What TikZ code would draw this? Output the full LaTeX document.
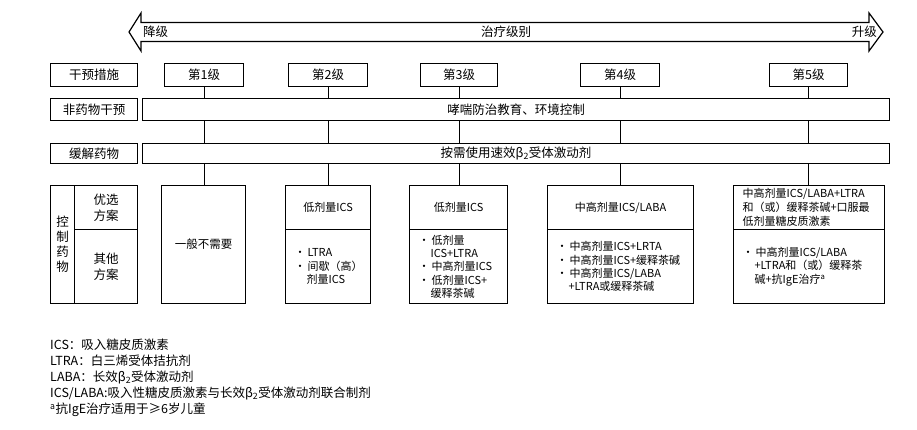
\documentclass[tikz,border=0pt]{standalone}
\usepackage{fontspec}
\setmainfont{Noto Sans CJK SC}
\usetikzlibrary{calc}
\newcommand{\bigtxt}{\fontsize{12.5}{16}\selectfont}
\newcommand{\smalltxt}{\fontsize{11}{13.3}\selectfont}
\newcommand{\bulit}{\makebox[13pt][l]{\textbullet}}
\newcommand{\contit}{\hspace*{12pt}}
\tikzset{frame/.style={draw,line width=1.2pt,inner sep=0pt,anchor=north west,align=center},
  hdr/.style={frame,font=\bigtxt},
  cell/.style={frame,font=\smalltxt},
  lst/.style={cell,align=left,inner xsep=9pt},
  link/.style={line width=1.2pt}}

\begin{document}
\begin{tikzpicture}[x=1pt,y=-1pt,line join=miter]
\useasboundingbox (0,0) rectangle (917,430);
% --- level arrow
\draw[line width=1.2pt] (129,32) -- (141,13) -- (141,22.5) -- (869,22.5) -- (869,13) -- (883,32)
  -- (869,51) -- (869,41.5) -- (141,41.5) -- (141,51) -- cycle;
\node[font=\bigtxt,anchor=west,inner sep=0pt] (down) at (143,32) {降级};
\node[font=\bigtxt,inner sep=0pt] (axis) at (506,32) {治疗级别};
\node[font=\bigtxt,anchor=east,inner sep=0pt] (up) at (877,32) {升级};
% --- row labels and levels
\node[hdr,minimum width=87,minimum height=23] (lbl1) at (50,63) {干预措施};
\node[hdr,minimum width=79,minimum height=23] (s1) at (164,63) {第1级}; \node[hdr,minimum width=79,minimum height=23] (s2) at (288,63) {第2级};
\node[hdr,minimum width=77,minimum height=23] (s3) at (420,63) {第3级}; \node[hdr,minimum width=79,minimum height=23] (s4) at (580,63) {第4级};
\node[hdr,minimum width=78,minimum height=23] (s5) at (769,63) {第5级};
\node[hdr,minimum width=87,minimum height=22] (lbl2) at (50,98) {非药物干预};
\node[hdr,minimum width=747,minimum height=22] (nd) at (142,98) {哮喘防治教育、环境控制};
\node[hdr,minimum width=87,minimum height=20] (lbl3) at (50,143) {缓解药物};
\node[hdr,minimum width=747,minimum height=20] (rl) at (142,143) {按需使用速效β\textsubscript{2}受体激动剂};
% --- controller medication
\node[hdr,minimum width=24,minimum height=118,font=\fontsize{12.5}{15}\selectfont] (ctl) at (50,185) {控\\制\\药\\物};
\node[hdr,minimum width=63,minimum height=44] (pref) at (74,185) {优选\\方案};
\node[hdr,minimum width=63,minimum height=74] (alt) at (74,229) {其他\\方案};
\node[cell,minimum width=84,minimum height=118,font=\fontsize{11.5}{14}\selectfont] (p1) at (161,185) {一般不需要};
\node[cell,minimum width=85,minimum height=44] (p2) at (285,185) {低剂量ICS};
\node[lst,minimum width=85,minimum height=74,text width=67] (o2) at (285,229) {\bulit LTRA\\\bulit 间歇（高）\\\contit 剂量ICS};
\node[cell,minimum width=98,minimum height=44] (p3) at (409,185) {低剂量ICS};
\node[lst,minimum width=98,minimum height=74,text width=80] (o3) at (409,229) {\bulit 低剂量\\\contit ICS+LTRA\\\bulit 中高剂量ICS\\\bulit 低剂量ICS+\\\contit 缓释茶碱};
\node[cell,minimum width=146,minimum height=44] (p4) at (547,185) {中高剂量ICS/LABA};
\node[lst,minimum width=146,minimum height=74,text width=128] (o4) at (547,229) {\bulit 中高剂量ICS+LRTA\\\bulit 中高剂量ICS+缓释茶碱\\\bulit 中高剂量ICS/LABA\\\contit +LTRA或缓释茶碱};
\node[lst,minimum width=151,minimum height=44,text width=133,font=\fontsize{11}{14}\selectfont] (p5) at (733,185) {中高剂量ICS/LABA+LTRA\\和（或）缓释茶碱+口服最\\低剂量糖皮质激素};
\node[lst,minimum width=151,minimum height=74,text width=133] (o5) at (733,229) {\bulit 中高剂量ICS/LABA\\\contit +LTRA和（或）缓释茶\\\contit 碱+抗IgE治疗\textsuperscript{a}};
% --- connectors
\foreach \i in {1,...,5} {
  \draw[link] (s\i.south) -- (s\i |- nd.north); \draw[link] (s\i |- nd.south) -- (s\i |- rl.north);
  \draw[link] (s\i |- rl.south) -- (s\i |- p\i.north);
}
% --- notes
\node[anchor=north west,align=left,inner sep=0pt,font=\bigtxt] (notes) at (50,339) {ICS：吸入糖皮质激素\\LTRA：白三烯受体拮抗剂\\LABA：长效β\textsubscript{2}受体激动剂\\ICS/LABA:吸入性糖皮质激素与长效β\textsubscript{2}受体激动剂联合制剂\\\textsuperscript{a}抗IgE治疗适用于≥6岁儿童};
\end{tikzpicture}
\end{document}
